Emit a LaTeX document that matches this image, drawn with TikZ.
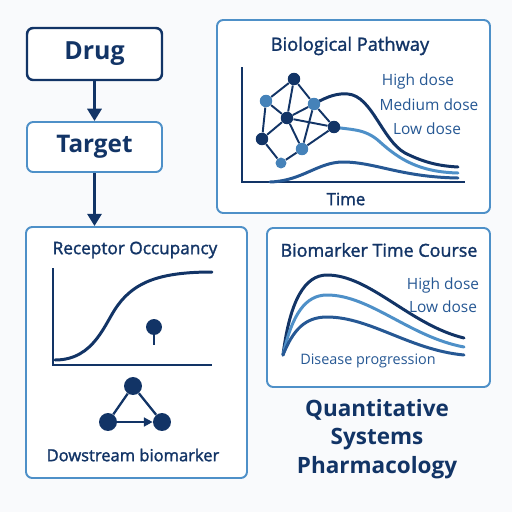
\documentclass[tikz,border=0pt]{standalone}
\usepackage{fontspec}
\setmainfont{Open Sans}
\newfontfamily\semifont{Open Sans}[FakeBold=1.6]
\usetikzlibrary{arrows.meta}

\definecolor{navy}{RGB}{18,52,102}
\definecolor{lightblue}{RGB}{78,144,200}
\definecolor{midblue}{RGB}{38,88,148}
\definecolor{paper}{RGB}{249,250,252}

\begin{document}
\begin{tikzpicture}[x=0.02cm,y=-0.02cm,
panel/.style={draw=lightblue,line width=1.1pt,rounded corners=3.5pt,fill=white},
flowbox/.style={panel,minimum width=2.7cm},
title/.style={text=navy,font=\semifont\fontsize{9.8}{11}\selectfont},
doselabel/.style={text=midblue,font=\fontsize{8.8}{10}\selectfont},
arrow/.style={-{Triangle[length=7pt,width=8pt]},draw=navy,line width=1.7pt},
axis/.style={draw=navy,line width=1.4pt},
curve/.style={line width=1.7pt,line cap=round},
dot/.style={circle,fill=navy,inner sep=0pt,minimum size=12.5pt*0.567},
ldot/.style={dot,fill=lightblue!85!navy},
edge/.style={draw=navy,line width=1.1pt} ]

\fill[paper] (0,0) rectangle (512,512);
\useasboundingbox (0,0) rectangle (512,512);

% flow chain
\node[flowbox,draw=navy,line width=1.4pt,minimum height=1.04cm,text=navy,font=\fontsize{14.2}{16}\selectfont\bfseries] (drug) at (94.5,54) {Drug};
\node[flowbox,minimum height=1.0cm,text=navy,font=\fontsize{13.8}{16}\selectfont\bfseries] (target) at (94.5,147) {Target};
\node[panel,minimum width=4.42cm,minimum height=5.02cm] (rec) at (136.5,352.5) {};

\draw[arrow] (drug) -- (target);
\draw[arrow] (target) -- (target |- rec.north);

% receptor occupancy
\node[title] (rectitle) at (135,250) {Receptor Occupancy};
\coordinate (rtop) at (53,268);
\coordinate (rorig) at (53,365);
\coordinate (rend) at (212,365);
\draw[axis] (rtop) -- (rorig) -- (rend);
\draw[curve,draw=navy] (55,360) .. controls (95,360) and (105,322) .. (118,305)
  .. controls (135,282) and (160,272) .. (212,272);
\node[dot,minimum size=16pt*0.567] (pin) at (154,327) {};
\coordinate (pinfoot) at (154,345);
\draw[navy,line width=0.8pt] (pin.south) -- (pinfoot);

\node[dot,minimum size=18pt*0.567] (ta) at (133,386) {};
\node[dot,minimum size=18pt*0.567] (tb) at (108,422) {};
\node[dot,minimum size=18pt*0.567] (tc) at (162,422) {};
\draw[edge,line width=1.3pt] (tb) -- (ta) -- (tc);
\draw[edge,line width=1.3pt,-{Triangle[length=5pt,width=5pt]}] (tb) -- (tc);
\node[title,font=\semifont\fontsize{9.4}{11}\selectfont] (downlabel) at (133,455) {Dowstream biomarker};

% biological pathway
\node[panel,minimum width=5.46cm,minimum height=3.86cm] (bio) at (353.5,116.5) {};
\node[title,font=\semifont\fontsize{10.4}{12}\selectfont] (biotitle) at (350,46) {Biological Pathway};
\coordinate (btop) at (242,67);
\coordinate (borig) at (242,182);
\coordinate (bend) at (465,182);
\draw[axis] (btop) -- (borig) -- (bend);
\node[title,font=\semifont\fontsize{9.6}{11}\selectfont] (timelabel) at (346,199) {Time};

\draw[curve,draw=midblue] (270,182) .. controls (302,181) and (318,162) .. (343,162)
  .. controls (375,162) and (400,177) .. (458,178);
\draw[curve,draw=lightblue] (334,127) .. controls (350,130) and (365,128) .. (380,142)
  .. controls (400,160) and (420,172) .. (458,173);
\draw[curve,draw=navy] (314,104) .. controls (328,96) and (338,93) .. (348,94)
  .. controls (372,96) and (382,140) .. (405,153)
  .. controls (425,163) and (440,166) .. (458,167);

\node[dot] (n1) at (294,79) {};
\node[ldot] (n2) at (266,101) {};
\node[ldot] (n3) at (314,104) {};
\node[dot] (n4) at (287,118) {};
\node[dot] (n5) at (334,127) {};
\node[dot] (n6) at (262,139) {};
\node[ldot] (n7) at (302,149) {};
\node[ldot,minimum size=11pt*0.567] (n8) at (281,163) {};
\foreach \a/\b in {n1/n2,n1/n4,n1/n3,n2/n4,n2/n6,n4/n3,n4/n5,n4/n6,n4/n7,n3/n5,n3/n7,n5/n7,n6/n8,n8/n7}
  \draw[edge] (\a) -- (\b);

\node[doselabel] (bhigh) at (418,81) {High dose};
\node[doselabel] (bmed) at (429,105) {Medium dose};
\node[doselabel] (blow) at (427,129) {Low dose};

% biomarker time course
\node[panel,minimum width=4.46cm,minimum height=3.18cm] (bmk) at (378.5,307.5) {};
\node[title,font=\semifont\fontsize{10.2}{12}\selectfont] (bmktitle) at (379,250) {Biomarker Time Course};
\draw[curve,draw=navy] (283,355) .. controls (290,300) and (305,275) .. (327,275)
  .. controls (370,275) and (410,325) .. (464,338);
\draw[curve,draw=lightblue] (283,355) .. controls (292,315) and (305,295) .. (327,295)
  .. controls (370,295) and (410,337) .. (464,347);
\draw[curve,draw=midblue] (283,355) .. controls (293,330) and (305,317) .. (327,317)
  .. controls (370,317) and (410,350) .. (464,355);
\node[doselabel] (mhigh) at (443,285) {High dose};
\node[doselabel] (mlow) at (443,307) {Low dose};
\node[doselabel,font=\fontsize{8.2}{10}\selectfont] (disease) at (368,361) {Disease progression};

% caption
\node[text=navy,align=center,font=\fontsize{12.8}{16.4}\selectfont\bfseries] (qsp) at (377,439) {Quantitative\\Systems\\Pharmacology};

\end{tikzpicture}
\end{document}
